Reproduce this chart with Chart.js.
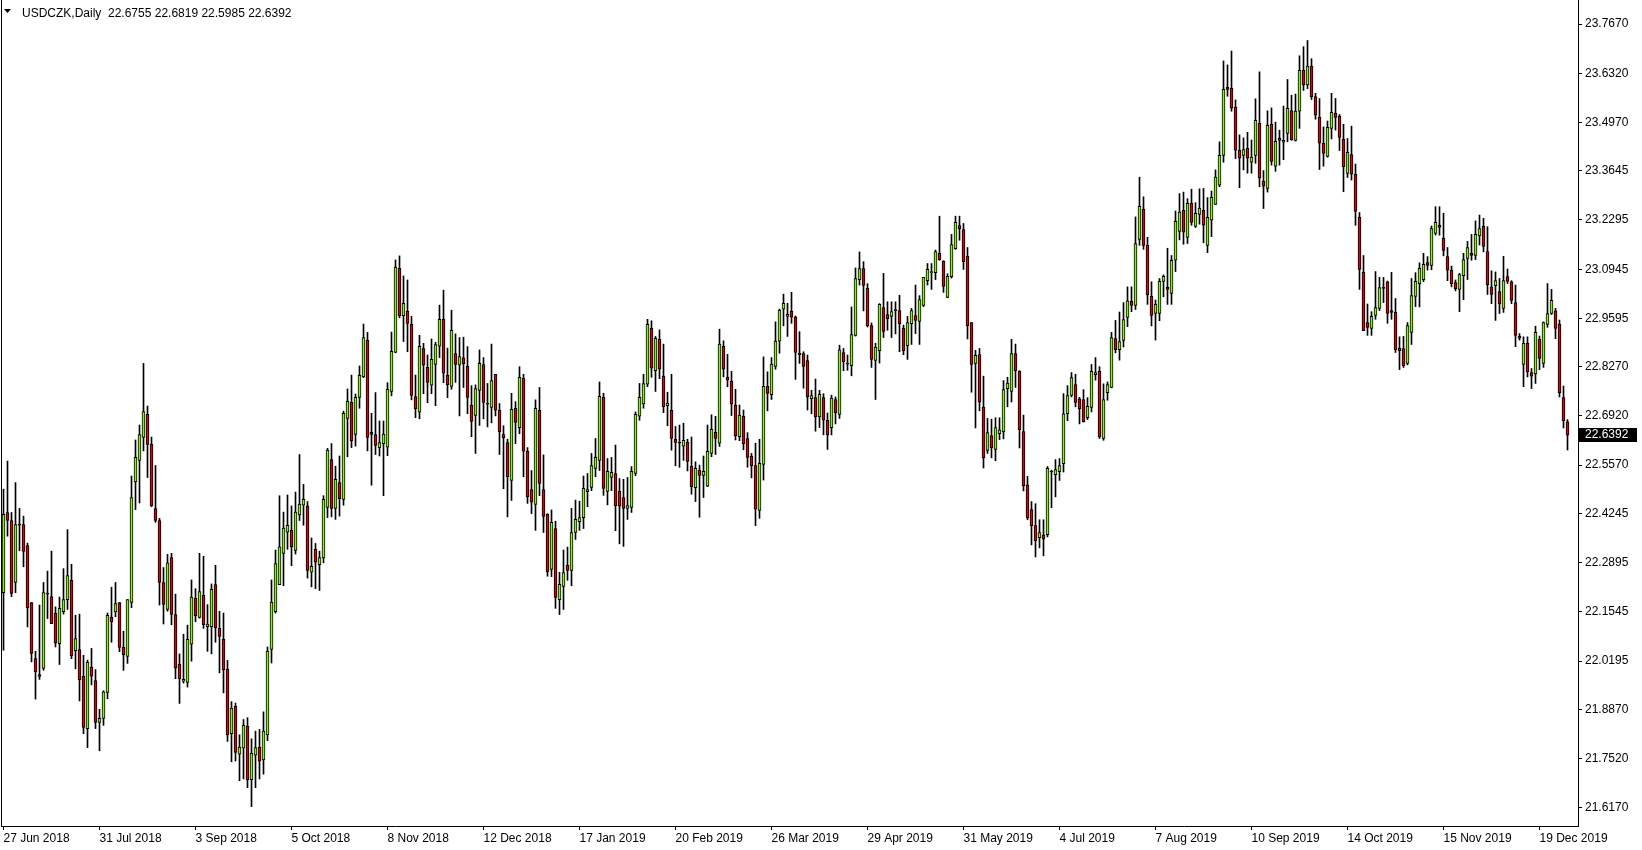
<!DOCTYPE html>
<html lang="en">
<head>
    <meta charset="UTF-8">
    <title>USDCZK, Daily</title>
    <script src="https://cdn.jsdelivr.net/npm/chart.js"></script>
    <style>
        body {
            margin: 0;
            background: #fff;
        }
        #chart {
            display: block;
        }
    </style>
</head>
<body>
    <canvas id="chart" width="1642" height="850"></canvas>

    <script>
        const symbol = 'USDCZK';
        const period = 'Daily';

        // one row per trading day, 27 Jun 2018 .. 27 Dec 2019
        const openPrices = [
            22.207, 22.427, 22.405, 22.235, 22.394, 22.394, 22.336, 22.180, 22.026, 21.982,
            21.999, 22.205, 22.196, 22.150, 22.067, 22.155, 22.188, 22.241, 22.048, 22.051,
            21.978, 21.834, 22.003, 21.966, 21.851, 21.862, 21.933, 22.140, 22.154, 22.180,
            22.057, 22.032, 22.180, 22.511, 22.570, 22.633, 22.696, 22.614, 22.438, 22.405,
            22.235, 22.161, 22.303, 22.147, 22.011, 21.964, 21.961, 22.066, 22.192, 22.139,
            22.200, 22.114, 22.114, 22.229, 22.109, 22.079, 21.997, 21.820, 21.895, 21.764,
            21.780, 21.841, 21.694, 21.761, 21.783, 21.748, 21.817, 22.051, 22.155, 22.229,
            22.315, 22.373, 22.378, 22.323, 22.420, 22.447, 22.445, 22.263, 22.326, 22.284,
            22.302, 22.441, 22.572, 22.438, 22.509, 22.463, 22.685, 22.729, 22.641, 22.743,
            22.799, 22.899, 22.647, 22.641, 22.605, 22.616, 22.606, 22.759, 22.866, 23.097,
            22.967, 22.979, 22.943, 22.745, 22.702, 22.877, 22.825, 22.776, 22.833, 22.883,
            22.957, 22.803, 22.773, 22.863, 22.831, 22.851, 22.828, 22.721, 22.693, 22.762,
            22.833, 22.726, 22.715, 22.806, 22.707, 22.641, 22.619, 22.515, 22.713, 22.660,
            22.795, 22.595, 22.490, 22.449, 22.707, 22.490, 22.422, 22.271, 22.383, 22.188,
            22.224, 22.282, 22.268, 22.372, 22.402, 22.413, 22.484, 22.496, 22.548, 22.570,
            22.743, 22.485, 22.523, 22.534, 22.485, 22.468, 22.438, 22.441, 22.534, 22.691,
            22.725, 22.779, 22.932, 22.816, 22.902, 22.801, 22.720, 22.707, 22.628, 22.618,
            22.609, 22.620, 22.554, 22.495, 22.543, 22.529, 22.499, 22.589, 22.647, 22.617,
            22.883, 22.798, 22.787, 22.721, 22.635, 22.691, 22.630, 22.581, 22.556, 22.433,
            22.559, 22.773, 22.750, 22.828, 22.897, 22.985, 22.965, 22.979, 22.963, 22.864,
            22.863, 22.844, 22.739, 22.742, 22.689, 22.742, 22.680, 22.660, 22.737, 22.696,
            22.866, 22.836, 22.830, 22.913, 23.066, 23.096, 23.042, 22.940, 22.844, 22.871,
            22.989, 22.970, 22.965, 22.982, 22.981, 22.933, 22.885, 22.945, 22.967, 22.951,
            22.995, 23.063, 23.085, 23.085, 23.138, 23.116, 23.017, 23.074, 23.151, 23.214,
            23.203, 23.130, 22.948, 22.836, 22.860, 22.716, 22.597, 22.638, 22.600, 22.643,
            22.649, 22.767, 22.759, 22.863, 22.814, 22.649, 22.503, 22.435, 22.391, 22.358,
            22.366, 22.366, 22.539, 22.531, 22.539, 22.561, 22.698, 22.748, 22.778, 22.739,
            22.737, 22.687, 22.715, 22.805, 22.814, 22.630, 22.756, 22.770, 22.904, 22.874,
            22.899, 22.962, 23.006, 22.995, 23.176, 23.259, 23.160, 23.020, 22.973, 22.973,
            23.061, 23.045, 23.028, 23.119, 23.198, 23.256, 23.182, 23.275, 23.212, 23.245,
            23.256, 23.160, 23.229, 23.272, 23.325, 23.407, 23.594, 23.591, 23.539, 23.421,
            23.407, 23.426, 23.388, 23.407, 23.495, 23.336, 23.316, 23.492, 23.377, 23.454,
            23.443, 23.467, 23.530, 23.448, 23.528, 23.640, 23.600, 23.652, 23.568, 23.511,
            23.440, 23.404, 23.481, 23.522, 23.514, 23.451, 23.357, 23.409, 23.355, 23.237,
            23.086, 22.948, 22.932, 22.968, 22.987, 23.044, 23.060, 22.981, 22.976, 22.878,
            22.877, 22.836, 22.921, 23.020, 23.055, 23.066, 23.113, 23.105, 23.193, 23.215,
            23.179, 23.129, 23.092, 23.058, 23.039, 23.077, 23.124, 23.138, 23.132, 23.186,
            23.212, 23.143, 23.046, 23.049, 23.033, 22.987, 23.074, 23.060, 23.003, 22.911,
            22.833, 22.891, 22.811, 22.807, 22.902, 22.836, 22.943, 22.973, 22.980, 22.944,
            22.742, 22.6755
        ];
        const highPrices = [
            22.491, 22.568, 22.427, 22.509, 22.438, 22.417, 22.343, 22.180, 22.046, 22.173,
            22.235, 22.266, 22.321, 22.168, 22.195, 22.273, 22.380, 22.285, 22.145, 22.148,
            22.035, 22.022, 22.054, 21.996, 21.887, 21.938, 22.151, 22.222, 22.235, 22.180,
            22.101, 22.188, 22.527, 22.626, 22.667, 22.836, 22.719, 22.634, 22.556, 22.411,
            22.276, 22.312, 22.315, 22.203, 22.039, 22.093, 22.118, 22.242, 22.218, 22.315,
            22.307, 22.174, 22.231, 22.282, 22.156, 22.151, 22.021, 21.908, 21.904, 21.817,
            21.859, 21.864, 21.806, 21.827, 21.832, 21.880, 22.058, 22.242, 22.324, 22.473,
            22.428, 22.475, 22.445, 22.483, 22.586, 22.504, 22.457, 22.357, 22.342, 22.321,
            22.473, 22.603, 22.616, 22.554, 22.582, 22.705, 22.766, 22.804, 22.752, 22.829,
            22.944, 22.921, 22.699, 22.756, 22.678, 22.678, 22.783, 22.922, 23.120, 23.131,
            23.076, 23.065, 22.965, 22.804, 22.913, 22.891, 22.859, 22.903, 22.894, 22.996,
            23.037, 22.878, 22.982, 22.917, 22.907, 22.908, 22.882, 22.775, 22.777, 22.873,
            22.852, 22.781, 22.889, 22.806, 22.726, 22.665, 22.628, 22.754, 22.731, 22.827,
            22.806, 22.605, 22.542, 22.736, 22.770, 22.585, 22.424, 22.434, 22.403, 22.263,
            22.324, 22.332, 22.438, 22.461, 22.458, 22.527, 22.534, 22.589, 22.630, 22.785,
            22.754, 22.575, 22.578, 22.612, 22.520, 22.518, 22.523, 22.553, 22.703, 22.781,
            22.806, 22.957, 22.953, 22.910, 22.928, 22.889, 22.757, 22.806, 22.663, 22.667,
            22.672, 22.628, 22.634, 22.566, 22.557, 22.582, 22.667, 22.695, 22.691, 22.930,
            22.898, 22.861, 22.814, 22.765, 22.722, 22.708, 22.646, 22.589, 22.617, 22.628,
            22.854, 22.813, 22.852, 22.950, 22.985, 23.026, 23.001, 23.031, 22.966, 22.923,
            22.868, 22.859, 22.762, 22.793, 22.762, 22.753, 22.700, 22.749, 22.744, 22.886,
            22.877, 22.859, 22.991, 23.098, 23.142, 23.115, 23.055, 22.947, 22.891, 23.000,
            23.083, 23.005, 23.005, 23.005, 23.023, 22.941, 22.965, 22.987, 23.051, 23.022,
            23.072, 23.110, 23.110, 23.147, 23.240, 23.118, 23.082, 23.190, 23.240, 23.240,
            23.220, 23.154, 22.948, 22.872, 22.877, 22.801, 22.685, 22.683, 22.687, 22.687,
            22.789, 22.798, 22.902, 22.889, 22.816, 22.694, 22.526, 22.457, 22.451, 22.407,
            22.407, 22.553, 22.543, 22.572, 22.575, 22.753, 22.775, 22.811, 22.806, 22.743,
            22.764, 22.742, 22.833, 22.852, 22.827, 22.780, 22.785, 22.921, 22.954, 22.977,
            23.003, 23.046, 23.046, 23.238, 23.347, 23.293, 23.182, 23.060, 23.010, 23.069,
            23.079, 23.152, 23.132, 23.254, 23.302, 23.306, 23.288, 23.314, 23.277, 23.315,
            23.316, 23.291, 23.309, 23.367, 23.444, 23.666, 23.655, 23.693, 23.559, 23.463,
            23.455, 23.470, 23.449, 23.562, 23.636, 23.365, 23.529, 23.537, 23.498, 23.476,
            23.542, 23.615, 23.572, 23.575, 23.680, 23.705, 23.722, 23.672, 23.577, 23.563,
            23.485, 23.501, 23.577, 23.563, 23.519, 23.492, 23.453, 23.487, 23.383, 23.250,
            23.132, 22.999, 22.978, 23.088, 23.072, 23.072, 23.062, 23.086, 23.014, 22.909,
            22.910, 22.948, 23.069, 23.085, 23.112, 23.138, 23.129, 23.213, 23.266, 23.266,
            23.248, 23.154, 23.103, 23.065, 23.083, 23.138, 23.171, 23.190, 23.227, 23.243,
            23.234, 23.211, 23.090, 23.087, 23.069, 23.130, 23.095, 23.063, 23.051, 22.918,
            22.909, 22.909, 22.822, 22.938, 22.911, 22.950, 23.055, 23.039, 22.987, 22.955,
            22.774, 22.6819
        ];
        const lowPrices = [
            22.049, 22.362, 22.196, 22.207, 22.322, 22.278, 22.113, 22.017, 21.915, 21.969,
            21.994, 22.136, 22.122, 22.058, 22.010, 22.148, 22.161, 22.026, 21.998, 21.910,
            21.820, 21.782, 21.954, 21.834, 21.773, 21.843, 21.916, 22.071, 22.141, 22.045,
            21.994, 22.013, 22.166, 22.435, 22.453, 22.596, 22.523, 22.443, 22.400, 22.173,
            22.121, 22.156, 22.119, 21.971, 21.903, 21.959, 21.948, 22.019, 22.127, 22.137,
            22.109, 22.046, 22.039, 22.071, 21.987, 21.932, 21.799, 21.743, 21.745, 21.691,
            21.696, 21.672, 21.620, 21.672, 21.696, 21.709, 21.801, 22.014, 22.151, 22.229,
            22.226, 22.326, 22.281, 22.313, 22.405, 22.392, 22.247, 22.223, 22.218, 22.213,
            22.289, 22.413, 22.415, 22.408, 22.417, 22.447, 22.580, 22.605, 22.609, 22.713,
            22.797, 22.596, 22.502, 22.586, 22.582, 22.473, 22.583, 22.747, 22.865, 22.961,
            22.896, 22.868, 22.736, 22.687, 22.684, 22.753, 22.728, 22.753, 22.720, 22.852,
            22.783, 22.742, 22.765, 22.784, 22.692, 22.770, 22.698, 22.635, 22.589, 22.666,
            22.684, 22.662, 22.673, 22.692, 22.586, 22.492, 22.415, 22.460, 22.616, 22.643,
            22.525, 22.452, 22.424, 22.378, 22.473, 22.372, 22.252, 22.251, 22.164, 22.147,
            22.161, 22.241, 22.226, 22.353, 22.378, 22.383, 22.443, 22.487, 22.525, 22.542,
            22.474, 22.448, 22.487, 22.377, 22.341, 22.334, 22.408, 22.427, 22.528, 22.680,
            22.713, 22.772, 22.798, 22.759, 22.794, 22.701, 22.665, 22.598, 22.555, 22.551,
            22.570, 22.541, 22.477, 22.457, 22.414, 22.468, 22.498, 22.580, 22.586, 22.608,
            22.799, 22.772, 22.693, 22.626, 22.624, 22.599, 22.551, 22.522, 22.391, 22.411,
            22.516, 22.706, 22.737, 22.820, 22.864, 22.939, 22.910, 22.946, 22.792, 22.836,
            22.768, 22.708, 22.698, 22.650, 22.660, 22.640, 22.600, 22.640, 22.670, 22.685,
            22.816, 22.817, 22.802, 22.911, 23.051, 22.980, 22.936, 22.825, 22.737, 22.837,
            22.907, 22.927, 22.907, 22.917, 22.868, 22.860, 22.847, 22.888, 22.918, 22.888,
            22.992, 23.051, 23.039, 23.066, 23.119, 23.031, 23.016, 23.070, 23.149, 23.174,
            23.094, 22.903, 22.757, 22.659, 22.706, 22.549, 22.589, 22.577, 22.569, 22.627,
            22.629, 22.717, 22.730, 22.770, 22.604, 22.486, 22.407, 22.338, 22.305, 22.330,
            22.308, 22.360, 22.440, 22.470, 22.515, 22.538, 22.679, 22.744, 22.717, 22.670,
            22.675, 22.682, 22.703, 22.790, 22.630, 22.625, 22.735, 22.769, 22.865, 22.845,
            22.881, 22.937, 22.978, 22.984, 23.160, 23.149, 22.998, 22.939, 22.900, 22.953,
            23.019, 22.998, 22.998, 23.088, 23.175, 23.163, 23.165, 23.215, 23.209, 23.218,
            23.167, 23.140, 23.184, 23.272, 23.321, 23.388, 23.569, 23.528, 23.398, 23.318,
            23.367, 23.358, 23.358, 23.385, 23.321, 23.261, 23.306, 23.380, 23.363, 23.380,
            23.395, 23.444, 23.448, 23.446, 23.481, 23.585, 23.590, 23.560, 23.506, 23.368,
            23.377, 23.402, 23.452, 23.476, 23.420, 23.307, 23.346, 23.339, 23.215, 23.039,
            22.926, 22.913, 22.913, 22.957, 22.981, 23.003, 22.946, 22.957, 22.866, 22.819,
            22.825, 22.832, 22.888, 22.992, 22.991, 23.060, 23.092, 23.093, 23.188, 23.188,
            23.131, 23.063, 23.046, 23.035, 22.978, 23.011, 23.066, 23.119, 23.121, 23.161,
            23.142, 23.025, 23.000, 22.954, 22.973, 22.976, 23.055, 23.000, 22.882, 22.900,
            22.772, 22.799, 22.767, 22.781, 22.819, 22.825, 22.935, 22.970, 22.904, 22.744,
            22.659, 22.5985
        ];
        const closePrices = [
            22.422, 22.405, 22.205, 22.394, 22.392, 22.320, 22.166, 22.040, 21.990, 21.977,
            22.207, 22.203, 22.122, 22.069, 22.164, 22.188, 22.254, 22.034, 22.081, 21.968,
            21.837, 22.016, 21.978, 21.851, 21.862, 21.935, 22.145, 22.127, 22.177, 22.057,
            22.037, 22.188, 22.468, 22.578, 22.641, 22.704, 22.614, 22.446, 22.405, 22.235,
            22.175, 22.289, 22.147, 22.000, 21.971, 21.969, 22.079, 22.195, 22.144, 22.210,
            22.119, 22.121, 22.216, 22.111, 22.087, 21.995, 21.817, 21.890, 21.769, 21.783,
            21.843, 21.694, 21.766, 21.782, 21.745, 21.827, 22.047, 22.181, 22.287, 22.333,
            22.384, 22.392, 22.333, 22.428, 22.450, 22.463, 22.268, 22.279, 22.291, 22.303,
            22.463, 22.598, 22.438, 22.518, 22.465, 22.699, 22.732, 22.624, 22.743, 22.803,
            22.907, 22.633, 22.641, 22.611, 22.619, 22.642, 22.765, 22.869, 23.100, 22.967,
            23.001, 22.946, 22.748, 22.712, 22.883, 22.831, 22.784, 22.847, 22.888, 22.957,
            22.809, 22.778, 22.927, 22.833, 22.855, 22.835, 22.743, 22.677, 22.767, 22.836,
            22.729, 22.724, 22.789, 22.708, 22.649, 22.632, 22.525, 22.710, 22.674, 22.798,
            22.595, 22.470, 22.455, 22.713, 22.507, 22.416, 22.264, 22.400, 22.194, 22.230,
            22.262, 22.268, 22.372, 22.408, 22.413, 22.493, 22.490, 22.556, 22.578, 22.746,
            22.493, 22.540, 22.537, 22.446, 22.444, 22.438, 22.446, 22.540, 22.696, 22.743,
            22.781, 22.943, 22.823, 22.905, 22.820, 22.717, 22.727, 22.630, 22.619, 22.617,
            22.625, 22.567, 22.498, 22.548, 22.529, 22.540, 22.595, 22.655, 22.630, 22.889,
            22.820, 22.790, 22.724, 22.638, 22.694, 22.616, 22.578, 22.555, 22.436, 22.562,
            22.773, 22.754, 22.834, 22.897, 22.982, 23.001, 22.971, 22.963, 22.866, 22.860,
            22.828, 22.744, 22.748, 22.689, 22.751, 22.680, 22.640, 22.741, 22.701, 22.873,
            22.840, 22.834, 22.915, 23.069, 23.096, 23.050, 22.939, 22.847, 22.881, 22.998,
            22.924, 22.959, 22.978, 22.981, 22.945, 22.871, 22.948, 22.981, 22.954, 23.011,
            23.072, 23.094, 23.085, 23.143, 23.120, 23.047, 23.075, 23.162, 23.223, 23.206,
            23.115, 22.939, 22.833, 22.858, 22.730, 22.577, 22.646, 22.605, 22.660, 22.654,
            22.764, 22.782, 22.863, 22.816, 22.654, 22.500, 22.412, 22.391, 22.350, 22.372,
            22.354, 22.548, 22.538, 22.545, 22.556, 22.698, 22.748, 22.797, 22.729, 22.712,
            22.676, 22.718, 22.814, 22.811, 22.634, 22.737, 22.778, 22.907, 22.874, 22.896,
            22.956, 23.008, 22.995, 23.165, 23.267, 23.160, 23.024, 22.968, 22.998, 23.061,
            23.075, 23.039, 23.119, 23.226, 23.251, 23.196, 23.275, 23.223, 23.248, 23.262,
            23.215, 23.237, 23.292, 23.347, 23.407, 23.588, 23.588, 23.536, 23.421, 23.399,
            23.423, 23.399, 23.402, 23.503, 23.344, 23.322, 23.489, 23.390, 23.445, 23.448,
            23.448, 23.536, 23.450, 23.528, 23.640, 23.600, 23.652, 23.568, 23.517, 23.440,
            23.412, 23.484, 23.525, 23.511, 23.456, 23.376, 23.415, 23.355, 23.253, 23.094,
            22.926, 22.935, 22.965, 22.989, 23.044, 23.042, 22.973, 22.976, 22.874, 22.871,
            22.830, 22.940, 23.022, 23.061, 23.097, 23.108, 23.105, 23.206, 23.223, 23.209,
            23.146, 23.092, 23.055, 23.041, 23.080, 23.121, 23.154, 23.132, 23.190, 23.206,
            23.157, 23.052, 23.025, 23.063, 22.999, 23.063, 23.061, 23.009, 22.913, 22.905,
            22.891, 22.813, 22.801, 22.921, 22.850, 22.948, 22.973, 23.009, 22.932, 22.756,
            22.679, 22.6392
        ];

        // date axis: label text and the bar it sits on
        const dateLabels = ['27 Jun 2018', '31 Jul 2018', '3 Sep 2018', '5 Oct 2018', '8 Nov 2018',
            '12 Dec 2018', '17 Jan 2019', '20 Feb 2019', '26 Mar 2019', '29 Apr 2019', '31 May 2019',
            '4 Jul 2019', '7 Aug 2019', '10 Sep 2019', '14 Oct 2019', '15 Nov 2019', '19 Dec 2019'];
        const dateLabelBars = [0, 24, 48, 72, 96, 120, 144, 168, 192, 216, 240, 264, 288, 312, 336, 360, 384];

        // price axis labels
        const priceTicks = [23.7670, 23.6320, 23.4970, 23.3645, 23.2295, 23.0945, 22.9595, 22.8270,
            22.6920, 22.5570, 22.4245, 22.2895, 22.1545, 22.0195, 21.8870, 21.7520, 21.6170];

        const upColor = '#7CFC00';
        const downColor = '#E00000';
        const font = { family: '"Liberation Sans", Arial, sans-serif', size: 12 };

        const n = closePrices.length;
        const last = n - 1;
        const bodies = [], wicks = [], bodyColors = [];
        for (let i = 0; i < n; i++) {
            bodies.push({ x: i, y: [openPrices[i], closePrices[i]] });
            wicks.push({ x: i, y: [lowPrices[i], highPrices[i]] });
            bodyColors.push(closePrices[i] >= openPrices[i] ? upColor : downColor);
        }

        // header line, left frame, last price marker
        const terminalBits = {
            id: 'terminalBits',
            afterDraw(chart) {
                const ctx = chart.ctx;
                const area = chart.chartArea;
                ctx.save();
                ctx.fillStyle = '#000';
                ctx.fillRect(1, 0, 1, area.bottom);

                ctx.beginPath();
                ctx.moveTo(4, 9);
                ctx.lineTo(11, 9);
                ctx.lineTo(7.5, 13);
                ctx.closePath();
                ctx.fill();

                ctx.font = '12px "Liberation Sans", Arial, sans-serif';
                ctx.textBaseline = 'alphabetic';
                ctx.textAlign = 'left';
                const ohlc = [openPrices[last], highPrices[last], lowPrices[last], closePrices[last]]
                    .map(v => v.toFixed(4)).join(' ');
                ctx.fillText(symbol + ',' + period + '  ' + ohlc, 22, 17);

                const py = Math.round(chart.scales.y.getPixelForValue(closePrices[last]));
                ctx.fillRect(area.right + 1, py - 7, 58, 14);
                ctx.fillStyle = '#fff';
                ctx.textBaseline = 'middle';
                ctx.fillText(closePrices[last].toFixed(4), area.right + 7, py);
                ctx.restore();
            }
        };

        new Chart(document.getElementById('chart'), {
            type: 'bar',
            data: {
                datasets: [{
                    label: 'body',
                    data: bodies,
                    order: 0,
                    backgroundColor: bodyColors,
                    borderColor: '#000',
                    borderWidth: 1,
                    borderSkipped: false,
                    barThickness: 3,
                    minBarLength: 1
                }, {
                    label: 'wick',
                    data: wicks,
                    order: 1,
                    backgroundColor: '#000',
                    borderWidth: 0,
                    barThickness: 1
                }]
            },
            options: {
                responsive: false,
                animation: false,
                devicePixelRatio: 1,
                layout: { padding: { left: 1, top: 0, right: 0, bottom: 0 } },
                datasets: { bar: { grouped: false } },
                plugins: {
                    legend: { display: false },
                    tooltip: { enabled: false }
                },
                scales: {
                    x: {
                        type: 'linear',
                        position: 'bottom',
                        offset: false,
                        min: -0.625,
                        max: 393.625,
                        afterBuildTicks: scale => {
                            scale.ticks = dateLabelBars.map(v => ({ value: v }));
                        },
                        afterFit: scale => {
                            scale.height = 24;
                            scale.paddingLeft = 0;
                            scale.paddingRight = 0;
                        },
                        ticks: {
                            autoSkip: false,
                            maxRotation: 0,
                            minRotation: 0,
                            align: 'start',
                            padding: 1,
                            color: '#000',
                            font: font,
                            callback: (v, i) => dateLabels[i]
                        },
                        grid: {
                            offset: false,
                            drawOnChartArea: false,
                            drawTicks: true,
                            tickLength: 4,
                            color: '#000'
                        },
                        border: { display: true, color: '#000', width: 1 }
                    },
                    y: {
                        type: 'linear',
                        position: 'right',
                        min: 21.5668,
                        max: 23.8331,
                        afterBuildTicks: scale => {
                            scale.ticks = priceTicks.map(v => ({ value: v }));
                        },
                        afterFit: scale => {
                            scale.width = 64;
                            scale.paddingTop = 0;
                            scale.paddingBottom = 0;
                        },
                        ticks: {
                            autoSkip: false,
                            padding: 3,
                            color: '#000',
                            font: font,
                            callback: v => v.toFixed(4)
                        },
                        grid: {
                            drawOnChartArea: false,
                            drawTicks: true,
                            tickLength: 4,
                            color: '#000'
                        },
                        border: { display: true, color: '#000', width: 1 }
                    }
                }
            },
            plugins: [terminalBits]
        });
    </script>
</body>
</html>
